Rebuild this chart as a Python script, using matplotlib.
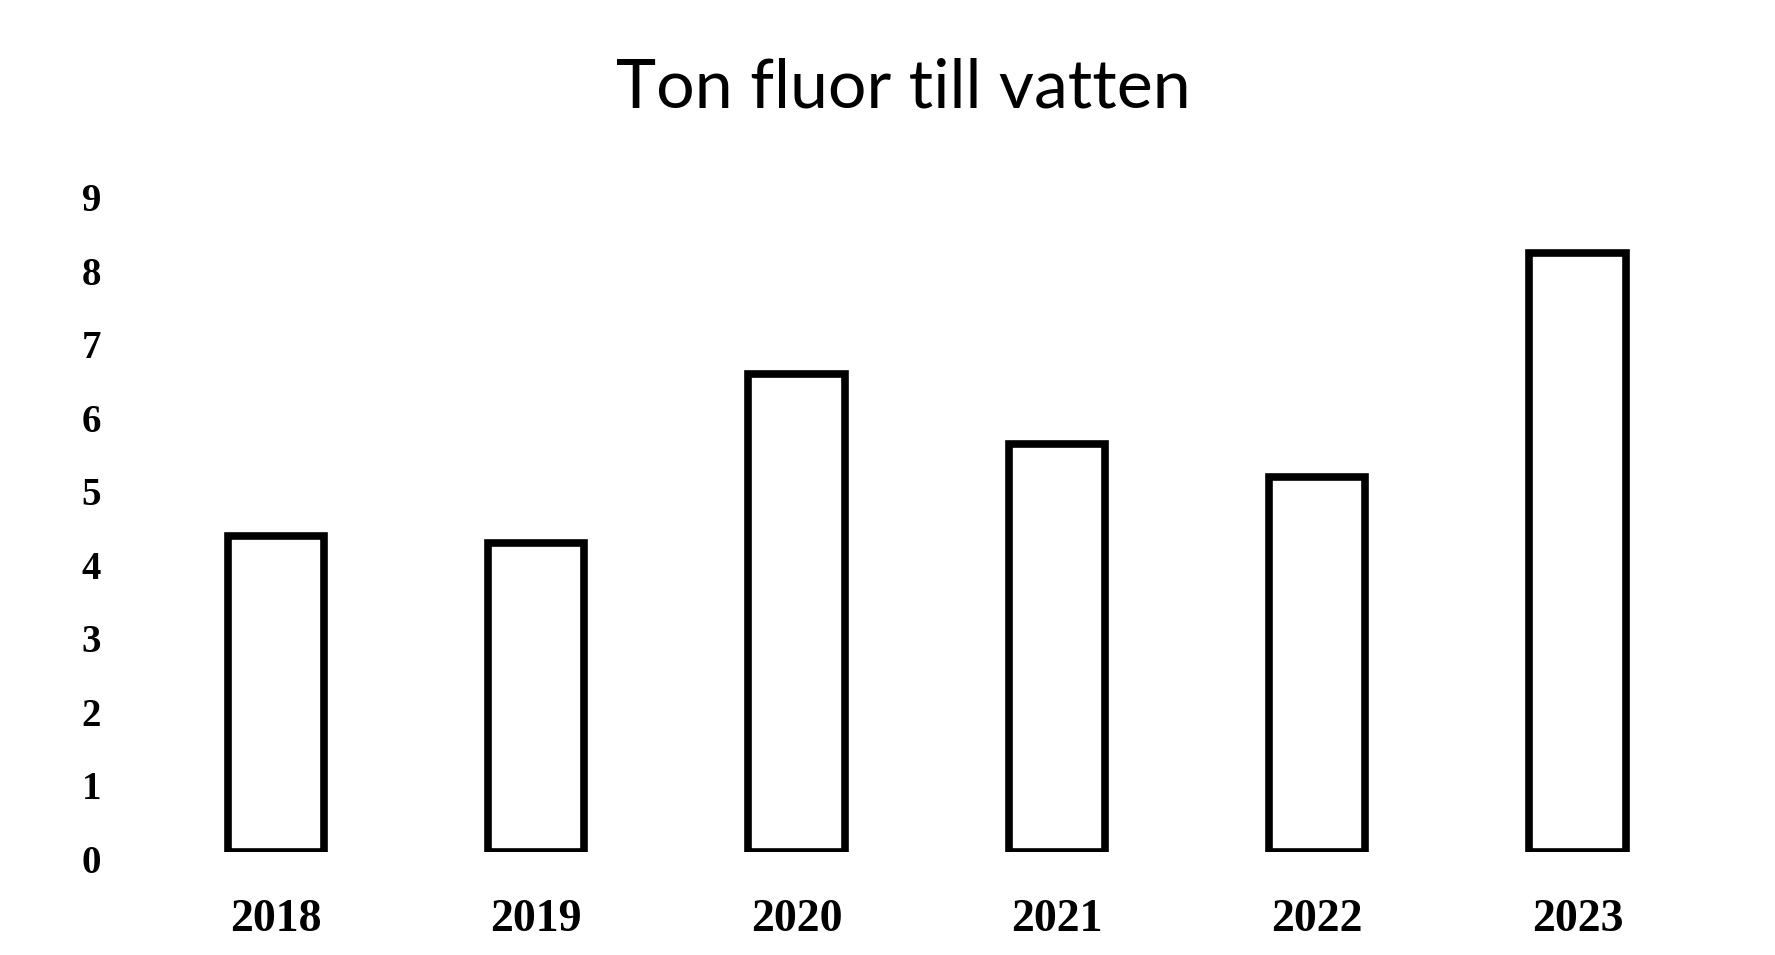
import matplotlib
matplotlib.use("Agg")
import matplotlib.pyplot as plt
import matplotlib.transforms as mtransforms
import numpy as np

years = ['2018', '2019', '2020', '2021', '2022', '2023']
ton_fluor = [4.3, 4.2, 6.5, 5.55, 5.1, 8.15]
yticks = list(range(0, 10))

fig = plt.figure(figsize=(17.75, 9.55), dpi=100)
ax = fig.add_axes([0.082, 0.108, 0.88, 0.693])

x = np.arange(len(years))
ax.bar(x, ton_fluor, width=0.37, color='white', edgecolor='black', linewidth=5.5)

ax.set_xlim(-0.5, len(years) - 0.5)
ax.set_ylim(0, 9)
ax.set_yticks(yticks)
ax.set_yticklabels([str(v) for v in yticks], fontsize=28, fontweight='bold', family='Liberation Serif')
ax.set_xticks(x)
ax.set_xticklabels(years, fontsize=33, fontweight='bold', family='Liberation Serif')
ax.tick_params(axis='y', length=0, pad=32)
ax.tick_params(axis='x', length=0, pad=34)
for s in ax.spines.values():
    s.set_visible(False)

# labels sit a little below their ticks in the original
offset = mtransforms.ScaledTranslation(0, -0.07, fig.dpi_scale_trans)
for lab in ax.get_yticklabels():
    lab.set_transform(lab.get_transform() + offset)

fig.text(0.509, 0.907, 'Ton fluor till vatten', ha='center', va='center',
         fontsize=49, family='Lato')

fig.savefig('out.png', dpi=100)
